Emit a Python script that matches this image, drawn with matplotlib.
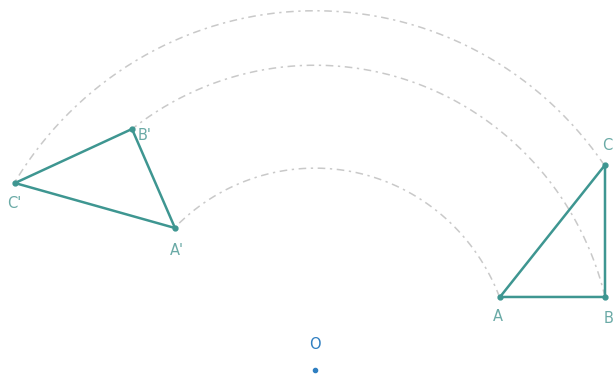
import numpy as np
import matplotlib
matplotlib.use("Agg")
import matplotlib.pyplot as plt

# Points relative to centre O (data units, y up)
labels = ["A", "B", "C"]
orig_x = [185, 290, 290]
orig_y = [71.6, 71.6, 201]
rot_labels = ["A'", "B'", "C'"]
rot_x = [-140, -183, -300]
rot_y = [139.2, 236.3, 183.3]
center = (0, 0)

teal = "#3e9691"
label_col = "#6aaaa6"
blue = "#2f7fc1"
arc_col = "#c9c9c9"

fig = plt.figure(figsize=(6.16, 3.77), dpi=100)
ax = fig.add_axes([0, 0, 1, 1])
ax.set_xlim(-315, 301)
ax.set_ylim(-7 / 1.02, 370 / 1.02)
ax.axis("off")

# arcs
for x0, y0, x1, y1 in zip(orig_x, orig_y, rot_x, rot_y):
    r = (np.hypot(x0, y0) + np.hypot(x1, y1)) / 2
    a0 = np.arctan2(y0, x0)
    a1 = np.arctan2(y1, x1)
    t = np.linspace(a0, a1, 200)
    ax.plot(r * np.cos(t), r * np.sin(t), color=arc_col, lw=1.1,
            linestyle=(0, (5, 3, 1.5, 3)), zorder=1)

# triangles
for xs, ys in [(orig_x, orig_y), (rot_x, rot_y)]:
    ax.plot(xs + [xs[0]], ys + [ys[0]], color=teal, lw=1.8, zorder=2,
            solid_joinstyle="round")
    ax.plot(xs, ys, "o", color=teal, ms=3.5, zorder=3)

# labels
offs = {"A": (-2, -19), "B": (4, -21), "C": (2, 19),
        "A'": (2, -22), "B'": (13, -6), "C'": (-1, -20)}
for lab, x, y in zip(labels + rot_labels, orig_x + rot_x, orig_y + rot_y):
    dx, dy = offs[lab]
    ax.text(x + dx, y + dy, lab, color=label_col, fontsize=10.5,
            ha="center", va="center", family="DejaVu Sans")

# centre
ax.plot([center[0]], [center[1]], "o", color=blue, ms=3)
ax.text(center[0], center[1] + 25, "O", color=blue, fontsize=10.5,
        ha="center", va="center", family="DejaVu Sans")

fig.savefig("out.png", dpi=100)
